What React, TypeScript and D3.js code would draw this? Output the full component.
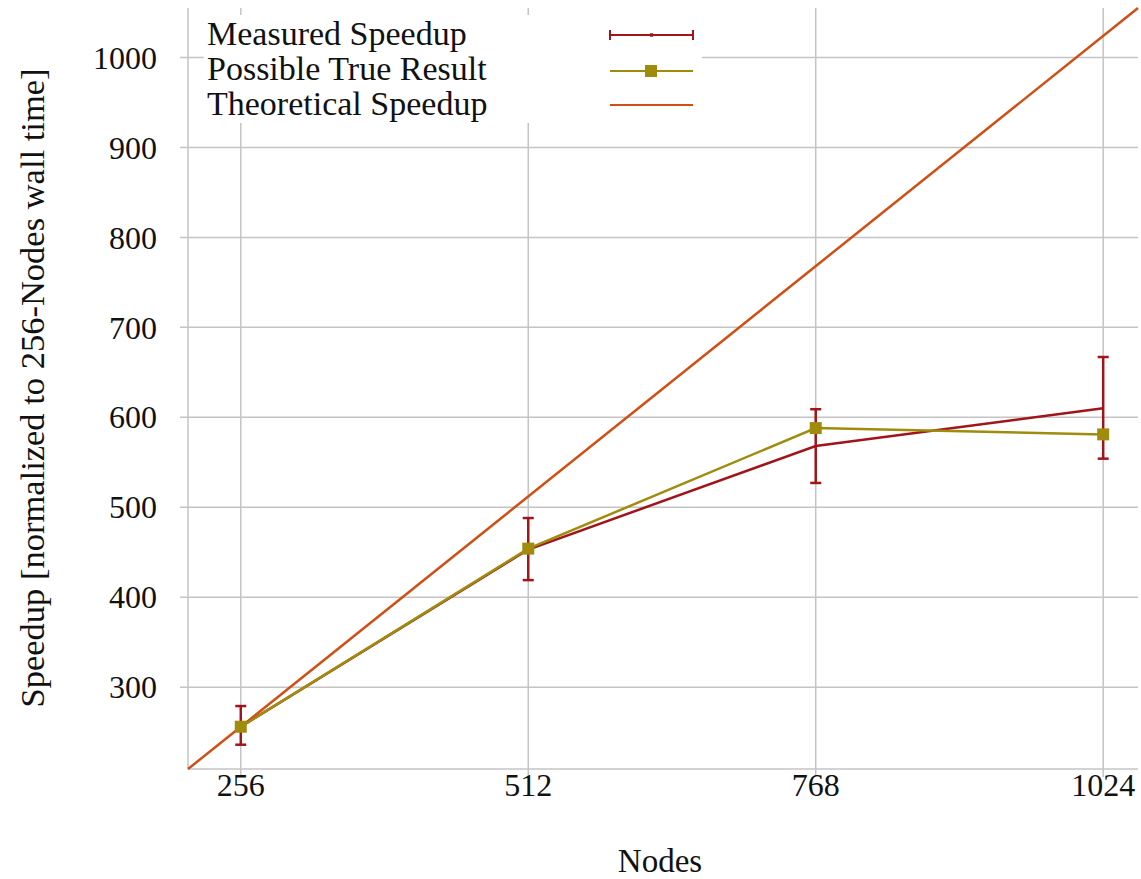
import React from "react";
import * as d3 from "d3";

const nodes = [256, 512, 768, 1024];
const measured = [256, 453, 568, 610];
const measuredLow = [236, 419, 527, 554];
const measuredHigh = [279, 488, 609, 667];
const possible = [256, 454, 588, 581];
const yTicks = [300, 400, 500, 600, 700, 800, 900, 1000];
const legendLabels = ["Measured Speedup", "Possible True Result", "Theoretical Speedup"];

const W = 1141,
  H = 879;
const margin = { left: 188, top: 8, right: 3, bottom: 110 };
const font = "'Liberation Serif', 'Times New Roman', serif";
const cMeasured = "#a0141a";
const cPossible = "#a08c0c";
const cTheory = "#cf4f14";
const cGrid = "#c4c4c4";

export default function App() {
  const x = d3.scaleLinear().domain([209, 1055]).range([margin.left, W - margin.right]);
  const y = d3.scaleLinear().domain([209, 1055]).range([H - margin.bottom, margin.top]);

  const line = d3
    .line<number>()
    .x((_, i) => x(nodes[i]))
    .y((d) => y(d));

  const bottom = H - margin.bottom;
  const cap = 5.5;

  return (
    <svg width={W} height={H} style={{ position: "absolute", left: 0, top: 0 }}>
      <rect width={W} height={H} fill="#fff" />
      {/* grid */}
      {nodes.map((n) => (
        <line key={"gx" + n} x1={x(n)} x2={x(n)} y1={margin.top} y2={bottom + 8} stroke={cGrid} strokeWidth={1.5} />
      ))}
      {yTicks.map((t) => (
        <line key={"gy" + t} x1={margin.left - 8} x2={W - margin.right} y1={y(t)} y2={y(t)} stroke={cGrid} strokeWidth={1.5} />
      ))}
      {/* axes */}
      <line x1={margin.left} x2={margin.left} y1={margin.top} y2={bottom} stroke={cGrid} strokeWidth={1.5} />
      <line x1={margin.left} x2={W - margin.right} y1={bottom} y2={bottom} stroke={cGrid} strokeWidth={1.5} />

      {/* tick labels */}
      {yTicks.map((t) => (
        <text key={"ty" + t} x={157} y={y(t)} dy="0.35em" textAnchor="end" fontFamily={font} fontSize={32} fill="#111">
          {t}
        </text>
      ))}
      {nodes.map((n) => (
        <text key={"tx" + n} x={x(n)} y={796} textAnchor="middle" fontFamily={font} fontSize={32} fill="#111">
          {n}
        </text>
      ))}
      <text x={660} y={872} textAnchor="middle" fontFamily={font} fontSize={33} fill="#111">
        Nodes
      </text>
      <text
        transform={`translate(44,388) rotate(-90)`}
        textAnchor="middle"
        fontFamily={font}
        fontSize={34.5}
        fill="#111"
      >
        Speedup [normalized to 256-Nodes wall time]
      </text>

      {/* theoretical */}
      <line x1={x(209)} y1={y(209)} x2={x(1055)} y2={y(1055)} stroke={cTheory} strokeWidth={2.5} />

      {/* measured */}
      <path d={line(measured) ?? ""} fill="none" stroke={cMeasured} strokeWidth={2.5} />
      {nodes.map((n, i) => (
        <g key={"eb" + n} stroke={cMeasured} strokeWidth={2.5}>
          <line x1={x(n)} x2={x(n)} y1={y(measuredLow[i])} y2={y(measuredHigh[i])} />
          <line x1={x(n) - cap} x2={x(n) + cap} y1={y(measuredLow[i])} y2={y(measuredLow[i])} />
          <line x1={x(n) - cap} x2={x(n) + cap} y1={y(measuredHigh[i])} y2={y(measuredHigh[i])} />
        </g>
      ))}

      {/* possible */}
      <path d={line(possible) ?? ""} fill="none" stroke={cPossible} strokeWidth={2.5} />
      {nodes.map((n, i) => (
        <rect key={"sq" + n} x={x(n) - 6} y={y(possible[i]) - 6} width={12} height={12} fill={cPossible} />
      ))}

      {/* legend */}
      <rect x={204} y={15} width={498} height={108} fill="#fff" />
      {legendLabels.map((l, i) => (
        <text key={l} x={207} y={45 + i * 35} fontFamily={font} fontSize={34} fill="#111">
          {l}
        </text>
      ))}
      <g stroke={cMeasured} strokeWidth={2}>
        <line x1={610} x2={693} y1={35} y2={35} />
        <line x1={610} x2={610} y1={30} y2={40} />
        <line x1={693} x2={693} y1={30} y2={40} />
        <line x1={650} x2={653} y1={35} y2={35} strokeWidth={3.5} />
      </g>
      <line x1={610} x2={693} y1={71} y2={71} stroke={cPossible} strokeWidth={2} />
      <rect x={645} y={65} width={12} height={12} fill={cPossible} />
      <line x1={610} x2={693} y1={105} y2={105} stroke={cTheory} strokeWidth={2} />
    </svg>
  );
}
